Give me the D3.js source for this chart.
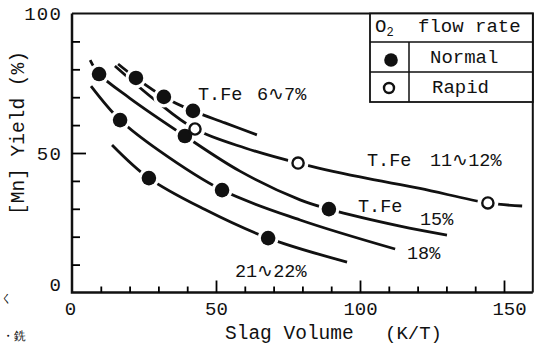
<!DOCTYPE html>
<html>
<head>
<meta charset="utf-8">
<script src="https://cdn.jsdelivr.net/npm/d3@7"></script>
<style>
	body { margin: 0; background: #fff; }
	svg { display: block; }
	text { font-family: "Liberation Mono", "DejaVu Sans Mono", monospace; fill: #111; }
</style>
</head>
<body>
<svg id="chart" width="546" height="347"></svg>
<script>
// tick labels
const xTicks = [0, 50, 100, 150];
const yTicks = [0, 50, 100];

// measured points, [slag volume, Mn yield]
const normal = [[9.4, 78.3], [22.2, 76.9], [31.9, 70.1], [42.0, 65.1], [39.2, 56.1], [16.7, 61.8], [26.7, 41.0], [52.1, 36.7], [89.2, 29.9], [68.1, 19.5]];
const rapid = [[42.7, 58.6], [78.5, 46.4], [144.4, 32.1]];

// fitted curves for each T.Fe level
const fe6_7 = [[16.0, 81.9], [22.2, 76.9], [31.9, 70.1], [42.0, 65.1], [53.1, 60.8], [64.2, 56.5]];
const fe11_12 = [[14.9, 81.2], [28.8, 69.0], [42.7, 58.6], [60.1, 51.8], [78.5, 46.4], [100, 41.4], [120.8, 37.3], [144.4, 32.1], [156.3, 31.0]];
const fe15 = [[6.3, 83.3], [9.4, 78.3], [20, 69.7], [39.2, 56.1], [58.3, 43.5], [79.2, 33.2], [89.2, 29.9], [113.9, 23.8], [130.2, 20.6]];
const fe18 = [[6.6, 74.0], [16.7, 61.8], [30, 51.0], [52.1, 36.7], [79.2, 26.0], [112.2, 15.6]];
const fe21_22 = [[13.9, 52.9], [26.7, 41.0], [46.0, 29.8], [68.1, 19.5], [95.5, 10.9]];

const svg = d3.select("#chart");
const x = d3.scaleLinear().domain([0, 150]).range([72, 504]);
const y = d3.scaleLinear().domain([0, 100]).range([292.5, 13.5]);
const xEnd = 160;

// frame: top and right are thinner than the two axes
svg.append("path")
	.attr("d", `M${x(0)},${y(100)}H${x(xEnd)}V${y(0)}`)
	.attr("fill", "none").attr("stroke", "#111").attr("stroke-width", 2);
svg.append("path")
	.attr("d", `M${x(0)},${y(100)}V${y(0)}H${x(xEnd)}`)
	.attr("fill", "none").attr("stroke", "#111").attr("stroke-width", 2.5);

// inward ticks
const yMinor = svg.append("g").attr("transform", `translate(${x(0)},0)`)
	.call(d3.axisRight(y).tickValues(d3.range(10, 100, 10)).tickSize(8).tickFormat(""));
yMinor.select(".domain").remove();
yMinor.selectAll(".tick line").attr("stroke-width", 1.8).filter(d => d === 50).attr("x2", 14);

const xMinor = svg.append("g").attr("transform", `translate(0,${y(0)})`)
	.call(d3.axisTop(x).tickValues(d3.range(10, 151, 10)).tickSize(6).tickFormat(""));
xMinor.select(".domain").remove();
xMinor.selectAll(".tick line").attr("stroke-width", 1.8).filter(d => d % 50 === 0).attr("y2", -12);

// tick labels
const yLab = svg.append("g").attr("transform", `translate(${x(0)},0)`)
	.call(d3.axisLeft(y).tickValues(yTicks).tickSize(0).tickPadding(10));
yLab.select(".domain").remove();
yLab.selectAll("text").attr("font-size", 19).attr("font-family", "'Liberation Sans', sans-serif").attr("fill", "#111")
	.attr("letter-spacing", 1.2)
	.filter(d => d === 0).attr("dy", "-0.08em");

const xLab = svg.append("g").attr("transform", `translate(0,${y(0)})`)
	.call(d3.axisBottom(x).tickValues(xTicks).tickSize(0).tickPadding(9));
xLab.select(".domain").remove();
xLab.selectAll("text").attr("font-size", 19).attr("font-family", "'Liberation Mono', monospace").attr("fill", "#111")
	.attr("dx", d => d === 0 ? -2 : d === 150 ? 5 : 0);

// axis titles
svg.append("text").attr("transform", "translate(24,133) rotate(-90)")
	.attr("text-anchor", "middle").attr("font-size", 19.5).text("[Mn] Yield (%)");
svg.append("text").attr("x", 225).attr("y", 339).attr("font-size", 19.5).text("Slag Volume");
svg.append("text").attr("x", 385).attr("y", 339).attr("font-size", 19).text("(K/T)");

// curves
const line = d3.line().x(d => x(d[0])).y(d => y(d[1])).curve(d3.curveCatmullRom.alpha(0.5));
svg.append("g").selectAll("path")
	.data([fe6_7, fe11_12, fe15, fe18, fe21_22])
	.join("path")
	.attr("d", line)
	.attr("fill", "none").attr("stroke", "#111").attr("stroke-width", 2.8);

// white halos break the curves around each marker
svg.append("g").selectAll("circle")
	.data(normal.concat(rapid))
	.join("circle")
	.attr("cx", d => x(d[0])).attr("cy", d => y(d[1])).attr("r", 10.5).attr("fill", "#fff");

svg.append("g").selectAll("circle")
	.data(normal)
	.join("circle")
	.attr("cx", d => x(d[0])).attr("cy", d => y(d[1])).attr("r", 7.3).attr("fill", "#111");
svg.append("g").selectAll("circle")
	.data(rapid)
	.join("circle")
	.attr("cx", d => x(d[0])).attr("cy", d => y(d[1])).attr("r", 5.6)
	.attr("fill", "#fff").attr("stroke", "#111").attr("stroke-width", 2.4);

// curve labels
const notes = svg.append("g").attr("font-size", 18.5);
notes.append("text").attr("x", 198).attr("y", 100).text("T.Fe");
notes.append("text").attr("x", 257).attr("y", 100).text("6∿7%");
notes.append("text").attr("x", 367).attr("y", 166).text("T.Fe");
notes.append("text").attr("x", 430).attr("y", 166).text("11∿12%");
notes.append("text").attr("x", 358).attr("y", 212).text("T.Fe");
notes.append("text").attr("x", 420).attr("y", 225).text("15%");
notes.append("text").attr("x", 407).attr("y", 259).text("18%");
notes.append("text").attr("x", 235).attr("y", 277).text("21∿22%");

// legend table
const lg = svg.append("g");
const lx0 = 370, lx1 = x(xEnd), ldiv = 409, rows = [y(100), 42, 72, 102];
lg.append("rect").attr("x", lx0).attr("y", rows[0]).attr("width", lx1 - lx0).attr("height", rows[3] - rows[0])
	.attr("fill", "#fff").attr("stroke", "#111").attr("stroke-width", 1.8);
lg.append("path").attr("d", `M${lx0},${rows[1]}H${lx1}M${lx0},${rows[2]}H${lx1}M${ldiv},${rows[1]}V${rows[3]}`)
	.attr("stroke", "#111").attr("stroke-width", 1.5);
const head = lg.append("text").attr("x", 375).attr("y", 32).attr("font-size", 19);
head.append("tspan").text("O");
head.append("tspan").attr("font-size", 12).attr("dy", 4).text("2");
lg.append("text").attr("x", 418).attr("y", 32).attr("font-size", 19).text("flow rate");
lg.append("circle").attr("cx", 391).attr("cy", 60).attr("r", 6.8).attr("fill", "#111");
lg.append("text").attr("x", 430).attr("y", 63).attr("font-size", 19).text("Normal");
lg.append("circle").attr("cx", 389).attr("cy", 88).attr("r", 5).attr("fill", "#fff").attr("stroke", "#111").attr("stroke-width", 2.4);
lg.append("text").attr("x", 432).attr("y", 93).attr("font-size", 19).text("Rapid");

// scan fragments at the page edge, kept small so they stay inside
svg.append("text").attr("x", 1).attr("y", 302).attr("font-size", 11).text("く");
svg.append("text").attr("x", 2).attr("y", 340).attr("font-size", 12)
	.attr("font-family", "'Noto Sans CJK JP', sans-serif").text("・銑");
</script>
</body>
</html>
